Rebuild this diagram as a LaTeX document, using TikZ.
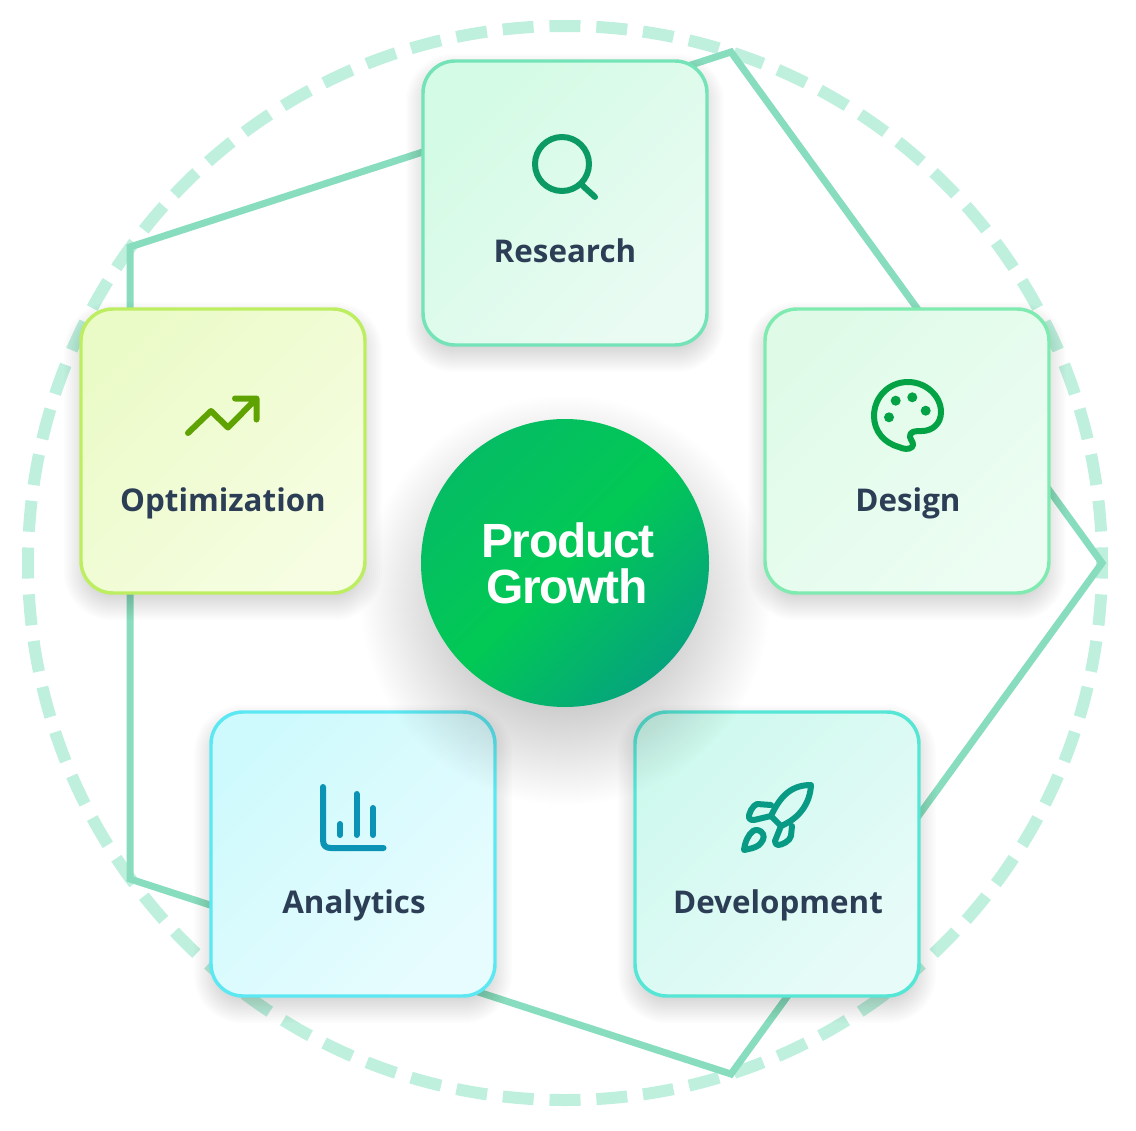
\documentclass[tikz,border=0pt]{standalone}
\usepackage{fontspec}
\setmainfont{Open Sans}
\newfontfamily\diskfont[LetterSpace=-2.7]{Liberation Sans}
\usetikzlibrary{fadings}

\definecolor{orbitdash}{HTML}{BFF0DE}
\definecolor{orbitline}{HTML}{88DDBE}
\definecolor{cardtext}{HTML}{2C3E55}
\definecolor{researchedge}{HTML}{74E3B7}
\definecolor{researchfrom}{HTML}{D3FBE5}
\definecolor{researchto}{HTML}{EAFBF3}
\definecolor{designedge}{HTML}{80EBB0}
\definecolor{designfrom}{HTML}{DFFBE8}
\definecolor{designto}{HTML}{EDFDF3}
\definecolor{developmentedge}{HTML}{55E6D5}
\definecolor{developmentfrom}{HTML}{CFF9EE}
\definecolor{developmentto}{HTML}{E7FBF8}
\definecolor{analyticsedge}{HTML}{5CE8F2}
\definecolor{analyticsfrom}{HTML}{CFFAFD}
\definecolor{analyticsto}{HTML}{E7FCFE}
\definecolor{optimizationedge}{HTML}{BDEE62}
\definecolor{optimizationfrom}{HTML}{EBFBC8}
\definecolor{optimizationto}{HTML}{F6FDE2}
\definecolor{searchicon}{HTML}{0C9A64}
\definecolor{paletteicon}{HTML}{03A244}
\definecolor{rocketicon}{HTML}{089A85}
\definecolor{charticon}{HTML}{0A93B5}
\definecolor{trendicon}{HTML}{5FA302}
\definecolor{diskfrom}{HTML}{05BC64}
\definecolor{diskmid}{HTML}{02C955}
\definecolor{diskto}{HTML}{05A47C}

\tikzfading[name=diskhalo, inner color=transparent!60, outer color=transparent!100]

\tikzset{
    cardbox/.style={draw,line width=2.6pt,rounded corners=24pt,minimum size=213pt,inner sep=0pt},
    cardfill/.style 2 args={left color=#1,right color=#2,shading angle=45},
    cardlabel/.style={anchor=base,text=cardtext,font=\bfseries\fontsize{23.5}{27}\selectfont},
    disklabel/.style={anchor=base,text=white,font=\diskfont\bfseries\fontsize{36}{40}\selectfont},
    iconline/.style={line width=4.5pt,line cap=round,line join=round},
}

\begin{document}
\begin{tikzpicture}[x=.75pt,y=-.75pt]
        \useasboundingbox (0,0) rectangle (1136,1131);

        % orbit
        \draw[orbitdash,line width=9pt,dash pattern=on 23.25pt off 11.9pt,dash phase=11.6pt] (565,563) circle[radius=537];

        \coordinate (corner top) at (731,52);
        \coordinate (corner right) at (1102,563);
        \coordinate (corner bottom) at (731,1074);
        \coordinate (corner low) at (130,879);
        \coordinate (corner high) at (130,247);
        \draw[orbitline,line width=5.25pt] (corner top) -- (corner right) -- (corner bottom) -- (corner low) -- (corner high) -- cycle;

        % card shadows
        \foreach \cardx/\cardy in {565/203,907/451,777/854,353/854,223/451}
            \foreach \grow in {-8,-6,...,16}
                \fill[black,opacity=.011,rounded corners=24pt+.75pt*\grow] (\cardx-143-\grow,\cardy-133-\grow) rectangle (\cardx+143+\grow,\cardy+153+\grow);

        % cards
        \node[cardbox,draw=researchedge,cardfill={researchfrom}{researchto}] at (565,203) (research) {};
        \node[cardbox,draw=designedge,cardfill={designfrom}{designto}] at (907,451) (design) {};
        \node[cardbox,draw=developmentedge,cardfill={developmentfrom}{developmentto}] at (777,854) (development) {};
        \node[cardbox,draw=analyticsedge,cardfill={analyticsfrom}{analyticsto}] at (353,854) (analytics) {};
        \node[cardbox,draw=optimizationedge,cardfill={optimizationfrom}{optimizationto}] at (223,451) (optimization) {};

        % labels
        \node[cardlabel] at (565,262) (research label) {Research};
        \node[cardlabel] at (908,511) (design label) {Design};
        \node[cardlabel] at (778,913) (development label) {Development};
        \node[cardlabel] at (354,913) (analytics label) {Analytics};
        \node[cardlabel] at (223,511) (optimization label) {Optimization};

        % search icon
        \draw[iconline,draw=searchicon] (562,164) circle[radius=27] (583,186) -- (595,197);

        % palette icon
        \draw[iconline,draw=paletteicon] (908,382) .. controls (926,382) and (941,396) .. (941,412)
            .. controls (941,424) and (932,431) .. (922,431)
            .. controls (916,431) and (909,431) .. (910,437)
            .. controls (911,441) and (915,444) .. (912,447)
            .. controls (909,450) and (903,449) .. (899,447)
            .. controls (884,443) and (874,431) .. (874,416)
            .. controls (874,397) and (889,382) .. (908,382) -- cycle;
        \fill[paletteicon] (895.7,400.7) circle[radius=5] (912.3,397.3) circle[radius=5]
            (925.7,410.7) circle[radius=5] (889,417.3) circle[radius=5];

        % rocket icon
        \draw[iconline,draw=rocketicon] (811,785) .. controls (793,785) and (781,794) .. (771,816)
            -- (781,826) .. controls (800,818) and (810,803) .. (811,785) -- cycle;
        \draw[iconline,draw=rocketicon] (771,805) -- (757,804) .. controls (753,805) and (748,814) .. (749,818)
            .. controls (750,820) and (752,820) .. (754,820) -- (771,816);
        \draw[iconline,draw=rocketicon] (792,826) -- (791,836) .. controls (790,841) and (782,845) .. (778,845)
            .. controls (776,845) and (775,843) .. (775,841) -- (781,826);
        \draw[iconline,draw=rocketicon] (744,850) .. controls (745,842) and (748,835) .. (753,831)
            .. controls (756,829) and (761,830) .. (763,834)
            .. controls (765,838) and (762,842) .. (759,845)
            .. controls (755,848) and (749,849) .. (744,850) -- cycle;

        % chart icon
        \draw[iconline,draw=charticon] (323,787) -- (323,840) .. controls (323,846) and (326,848) .. (331,848) -- (383.5,848);
        \draw[iconline,draw=charticon] (340,824) -- (340,835) (356.5,794) -- (356.5,835) (373,808) -- (373,835);

        % trend icon
        \draw[iconline,draw=trendicon] (188,433) -- (211,411) -- (228,427.5) -- (256.5,398.5) (235,398.5) -- (256.5,398.5) -- (256.5,419.5);

        % centre
        \fill[black,path fading=diskhalo,fit fading=true] (565,600) circle[radius=205];
        \node[circle,minimum size=216pt,inner sep=0pt,left color=diskfrom,right color=diskto,middle color=diskmid,shading angle=45] at (565,563) (disk) {};
        \node[disklabel] at (568,557) (product) {Product};
        \node[disklabel] at (567,603) (growth) {Growth};
\end{tikzpicture}
\end{document}
